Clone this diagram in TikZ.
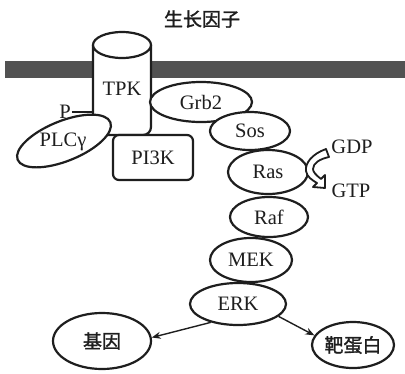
\documentclass[tikz,border=0pt]{standalone}
\usepackage{fontspec}
\setmainfont{Liberation Serif}
\newfontfamily\cjk[FakeBold=1.5]{Noto Sans CJK SC}
\usetikzlibrary{shapes.geometric,arrows.meta}
\definecolor{ink}{RGB}{30,30,30}
\tikzset{
  lbl/.style={font=\fontsize{20.5}{24}\selectfont, text=ink},
  cjklbl/.style={font=\cjk\fontsize{19}{22}\selectfont, text=ink},
  prot/.style={ellipse, draw=ink, line width=2.2pt, fill=white, inner sep=0pt, lbl},
  arr/.style={draw=ink, line width=1.4pt, -{Stealth[length=9pt,width=7pt]}}
}
\begin{document}
\begin{tikzpicture}[x=1pt,y=-1pt]
\useasboundingbox (0,0) rectangle (405,373);
% title
\node[cjklbl] (gf) at (202,19) {生长因子};
% membrane
\fill[black!68] (5,61) rectangle (405,78);
% TPK cylinder
\draw[ink, line width=2.2pt, fill=white, rounded corners=8pt] (93,45) -- (93,135) -- (151,135) -- (151,45);
\draw[ink, line width=2.2pt, fill=white] (122,45) ellipse [x radius=29, y radius=13];
\node[lbl] (tpk) at (122,89) {TPK};
\coordinate (tpkleft) at (93,112);
\node[lbl, inner sep=1pt] (p) at (65,112) {P};
\draw[ink, line width=1.8pt] (p.east) -- (tpkleft);
% PLC gamma
\node[prot, minimum width=100pt, minimum height=40pt, rotate=22] (plc) at (64,141) {};
\node[lbl] (plct) at (63,142) {PLCγ};
% PI3K
\node[draw=ink, line width=2.2pt, fill=white, rounded corners=6pt, minimum width=80pt, minimum height=45pt, lbl] (pi3k) at (153,157.5) {PI3K};
% chain
\node[prot, minimum width=102pt, minimum height=40pt] (grb2) at (201,102) {Grb2};
\node[prot, minimum width=80pt, minimum height=38pt] (sos) at (250,131) {Sos};
\node[prot, minimum width=80pt, minimum height=44pt] (ras) at (268,172) {Ras};
\node[prot, minimum width=78pt, minimum height=40pt] (raf) at (269,217) {Raf};
\node[prot, minimum width=82pt, minimum height=44pt] (mek) at (251,260) {MEK};
\node[prot, minimum width=96pt, minimum height=42pt] (erk) at (238,304) {ERK};
\node[prot, minimum width=82pt, minimum height=46pt, cjklbl] (target) at (353,345) {靶蛋白};
\node[prot, minimum width=98pt, minimum height=56pt, cjklbl] (gene) at (102,341) {基因};
% GDP / GTP exchange
\draw[ink, line width=1.8pt, fill=white, line join=round]
  (326,149) .. controls (312,154) and (305,163) .. (306,171)
  .. controls (307,177) and (312,180) .. (317,183)
  -- (313,187) -- (325,188) -- (325,175) -- (321,179)
  .. controls (316,175) and (313,172) .. (313,169)
  .. controls (313,163) and (320,159) .. (329,157) -- cycle;
\node[lbl] (gdp) at (352,147) {GDP};
\node[lbl] (gtp) at (351,191) {GTP};
% arrows
\draw[arr] (erk.214) -- (gene.4);
\draw[arr] (erk.343) -- (target.166);
\end{tikzpicture}
\end{document}
